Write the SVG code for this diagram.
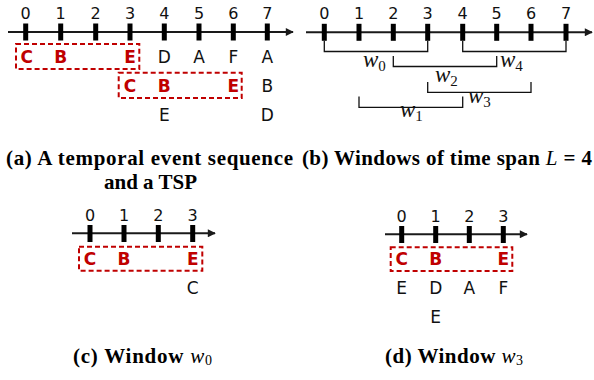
<svg xmlns="http://www.w3.org/2000/svg" width="594" height="380" viewBox="0 0 594 380">
  <style>
    .axis { stroke: #1a1a1a; stroke-width: 2; fill: none; }
    .tick { fill: #000; }
    .num { font-family: "DejaVu Sans", Verdana, sans-serif; font-size: 16px; fill: #111; text-anchor: middle; }
    .ev { font-family: "DejaVu Sans", Verdana, sans-serif; font-size: 17px; fill: #111; text-anchor: middle; }
    .tsp { font-family: "DejaVu Sans", Verdana, sans-serif; font-size: 17px; font-weight: bold; fill: #c00000; text-anchor: middle; }
    .box { fill: none; stroke: #c00000; stroke-width: 2; stroke-dasharray: 5 3; }
    .brk { fill: none; stroke: #111; stroke-width: 1.3; }
    .wl { font-family: "Liberation Serif", "Times New Roman", serif; font-style: italic; font-size: 23px; fill: #111; }
    .ws { font-size: 15px; font-style: normal; }
    .cap { font-family: "Liberation Serif", "Times New Roman", serif; font-weight: bold; font-size: 21px; fill: #000; }
    .capm { font-style: italic; font-weight: normal; }
    .capsub { font-style: normal; font-weight: normal; font-size: 14px; }
  </style>
  <defs>
    <marker id="arr" viewBox="0 0 10 10" refX="9" refY="5" markerWidth="10" markerHeight="8" markerUnits="userSpaceOnUse" orient="auto">
      <path d="M0,0 L10,5 L0,10 z" fill="#1a1a1a"/>
    </marker>
  </defs>

  <!-- (a) temporal event sequence -->
  <g id="panel-a">
    <line class="axis" x1="8" y1="32" x2="293" y2="32" marker-end="url(#arr)"/>
    <g id="a-ticks">
      <rect class="tick" x="23.2" y="23.5" width="5" height="17"/>
      <rect class="tick" x="58.2" y="23.5" width="5" height="17"/>
      <rect class="tick" x="93.2" y="23.5" width="5" height="17"/>
      <rect class="tick" x="127.5" y="23.5" width="5" height="17"/>
      <rect class="tick" x="161.8" y="23.5" width="5" height="17"/>
      <rect class="tick" x="196.5" y="23.5" width="5" height="17"/>
      <rect class="tick" x="230.8" y="23.5" width="5" height="17"/>
      <rect class="tick" x="264.8" y="23.5" width="5" height="17"/>
    </g>
    <g id="a-numbers">
      <text class="num" x="25.7" y="19">0</text>
      <text class="num" x="60.7" y="19">1</text>
      <text class="num" x="95.7" y="19">2</text>
      <text class="num" x="130" y="19">3</text>
      <text class="num" x="164.3" y="19">4</text>
      <text class="num" x="199" y="19">5</text>
      <text class="num" x="233.3" y="19">6</text>
      <text class="num" x="267.3" y="19">7</text>
    </g>
    <g id="a-events">
      <text class="ev" x="164.3" y="63.3">D</text>
      <text class="ev" x="199" y="63.3">A</text>
      <text class="ev" x="233.3" y="63.3">F</text>
      <text class="ev" x="267.3" y="63.3">A</text>
      <text class="ev" x="267.3" y="92.3">B</text>
      <text class="ev" x="164.3" y="121">E</text>
      <text class="ev" x="267.3" y="121">D</text>
    </g>
    <g id="a-tsp1">
      <rect class="box" x="16" y="44" width="123.3" height="25"/>
      <text class="tsp" x="26.7" y="63.3">C</text>
      <text class="tsp" x="60.7" y="63.3">B</text>
      <text class="tsp" x="130" y="63.3">E</text>
    </g>
    <g id="a-tsp2">
      <rect class="box" x="118.7" y="72.7" width="123" height="25.3"/>
      <text class="tsp" x="130" y="92.3">C</text>
      <text class="tsp" x="164.3" y="92.3">B</text>
      <text class="tsp" x="233.3" y="92.3">E</text>
    </g>
    <text class="cap" x="6" y="165" textLength="287">(a) A temporal event sequence</text>
    <text class="cap" x="104" y="188.6">and a TSP</text>
  </g>

  <!-- (b) windows of time span L = 4 -->
  <g id="panel-b">
    <line class="axis" x1="306" y1="32.3" x2="592" y2="32.3" marker-end="url(#arr)"/>
    <g id="b-ticks">
      <rect class="tick" x="321.8" y="23.8" width="5" height="17"/>
      <rect class="tick" x="356.5" y="23.8" width="5" height="17"/>
      <rect class="tick" x="390.8" y="23.8" width="5" height="17"/>
      <rect class="tick" x="425.2" y="23.8" width="5" height="17"/>
      <rect class="tick" x="460.2" y="23.8" width="5" height="17"/>
      <rect class="tick" x="494.2" y="23.8" width="5" height="17"/>
      <rect class="tick" x="528.5" y="23.8" width="5" height="17"/>
      <rect class="tick" x="563.5" y="23.8" width="5" height="17"/>
    </g>
    <g id="b-numbers">
      <text class="num" x="324.3" y="19">0</text>
      <text class="num" x="359" y="19">1</text>
      <text class="num" x="393.3" y="19">2</text>
      <text class="num" x="427.7" y="19">3</text>
      <text class="num" x="462.7" y="19">4</text>
      <text class="num" x="496.7" y="19">5</text>
      <text class="num" x="531" y="19">6</text>
      <text class="num" x="566" y="19">7</text>
    </g>
    <g id="connectors">
      <path id="w0" class="brk" d="M324.3,41 V51.5 H427.7 V41"/>
      <path id="w4" class="brk" d="M462.7,41 V51.5 H566 V41"/>
      <path id="w2" class="brk" d="M393.3,56 V66.5 H496.7 V56"/>
      <path id="w3" class="brk" d="M427.7,82 V92.3 H531 V82"/>
      <path id="w1" class="brk" d="M359,96.5 V107.3 H462.7 V96.5"/>
    </g>
    <g id="b-labels">
      <text class="wl" x="363" y="67">w<tspan class="ws" dy="4">0</tspan></text>
      <text class="wl" x="500" y="67">w<tspan class="ws" dy="4">4</tspan></text>
      <text class="wl" x="435" y="82">w<tspan class="ws" dy="4">2</tspan></text>
      <text class="wl" x="468" y="103">w<tspan class="ws" dy="4">3</tspan></text>
      <text class="wl" x="400" y="117">w<tspan class="ws" dy="4">1</tspan></text>
    </g>
    <text class="cap" x="302" y="165" textLength="290">(b) Windows of time span <tspan class="capm">L</tspan> = 4</text>
  </g>

  <!-- (c) window w0 -->
  <g id="panel-c">
    <line class="axis" x1="72" y1="233.3" x2="215" y2="233.3" marker-end="url(#arr)"/>
    <rect class="tick" x="87.5" y="225" width="5" height="17"/>
    <rect class="tick" x="121.5" y="225" width="5" height="17"/>
    <rect class="tick" x="155.8" y="225" width="5" height="17"/>
    <rect class="tick" x="190.2" y="225" width="5" height="17"/>
    <text class="num" x="90" y="220.7">0</text>
    <text class="num" x="124" y="220.7">1</text>
    <text class="num" x="158.3" y="220.7">2</text>
    <text class="num" x="192.7" y="220.7">3</text>
    <g id="c-tsp">
      <rect class="box" x="79" y="246.7" width="123.3" height="24"/>
      <text class="tsp" x="90" y="264.5">C</text>
      <text class="tsp" x="124" y="264.5">B</text>
      <text class="tsp" x="192.7" y="264.5">E</text>
    </g>
    <text class="ev" x="192.7" y="293.5">C</text>
    <text class="cap" x="73" y="363" textLength="139">(c) Window <tspan class="capm">w</tspan><tspan class="capsub" dy="2">0</tspan></text>
  </g>

  <!-- (d) window w3 -->
  <g id="panel-d">
    <line class="axis" x1="385" y1="234.3" x2="527" y2="234.3" marker-end="url(#arr)"/>
    <rect class="tick" x="399.2" y="226" width="5" height="17"/>
    <rect class="tick" x="433.2" y="226" width="5" height="17"/>
    <rect class="tick" x="466.8" y="226" width="5" height="17"/>
    <rect class="tick" x="500.8" y="226" width="5" height="17"/>
    <text class="num" x="401.7" y="221.5">0</text>
    <text class="num" x="435.7" y="221.5">1</text>
    <text class="num" x="469.3" y="221.5">2</text>
    <text class="num" x="503.3" y="221.5">3</text>
    <g id="d-tsp">
      <rect class="box" x="390.7" y="247.3" width="121.6" height="23.7"/>
      <text class="tsp" x="401.7" y="265">C</text>
      <text class="tsp" x="435.7" y="265">B</text>
      <text class="tsp" x="503.3" y="265">E</text>
    </g>
    <text class="ev" x="401.7" y="294">E</text>
    <text class="ev" x="435.7" y="294">D</text>
    <text class="ev" x="469.3" y="294">A</text>
    <text class="ev" x="503.3" y="294">F</text>
    <text class="ev" x="435.7" y="323">E</text>
    <text class="cap" x="385" y="363" textLength="138">(d) Window <tspan class="capm">w</tspan><tspan class="capsub" dy="2">3</tspan></text>
  </g>
</svg>
